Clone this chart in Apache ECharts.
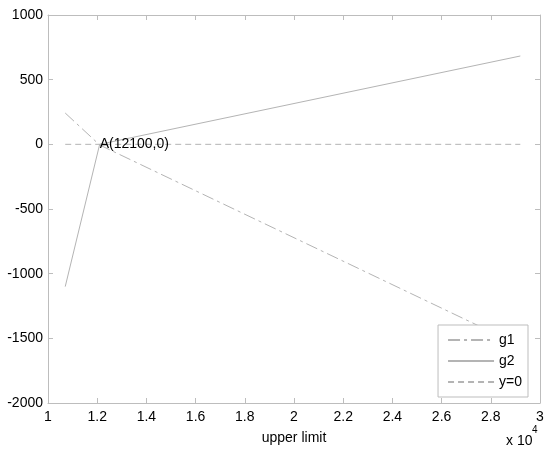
<!DOCTYPE html>
<html>
<head>
<meta charset="utf-8">
<script src="https://cdn.jsdelivr.net/npm/echarts@6/dist/echarts.min.js"></script>
<style>
  html, body { margin: 0; padding: 0; background: #fff; }
  #chart { width: 550px; height: 452px; }
</style>
</head>
<body>
<div id="chart"></div>
<script>
const g1X = [10700, 12100, 29200]
const g1Y = [242, -5, -1557]
const g2X = [10700, 12100, 29200]
const g2Y = [-1100, 0, 683]
const zeroX = [10700, 29200]
const zeroY = [0, 0]
const seriesNames = ['g1', 'g2', 'y=0']
const annoPoint = [12100, 0]
const xName = 'upper limit'

const pairs = (xs, ys) => xs.map((x, i) => [x, ys[i]])

const lineColor = '#b4b4b4'
const axisColor = '#bdbdbd'
const fontFamily = '"Liberation Sans", Arial, Helvetica, sans-serif'

const xBase = {
  type: 'value',
  min: 10000,
  max: 30000,
  interval: 2000,
  axisLine: { show: true, onZero: false, lineStyle: { color: axisColor } },
  axisTick: { show: true, inside: true, length: 5, lineStyle: { color: axisColor } },
  splitLine: { show: false }
}
const yBase = {
  type: 'value',
  min: -2000,
  max: 1000,
  interval: 500,
  axisLine: { show: true, onZero: false, lineStyle: { color: axisColor } },
  axisTick: { show: true, inside: true, length: 5, lineStyle: { color: axisColor } },
  splitLine: { show: false }
}

const chart = echarts.init(document.getElementById('chart'))

chart.setOption({
  animation: false,
  backgroundColor: '#fff',
  textStyle: { fontFamily },
  grid: { left: 48, right: 10, top: 15, bottom: 49 },
  legend: {
    orient: 'vertical',
    right: 22,
    top: 325,
    data: seriesNames,
    itemWidth: 46,
    itemHeight: 14,
    itemGap: 7,
    padding: [8, 6, 8, 9],
    backgroundColor: '#fff',
    borderColor: axisColor,
    borderWidth: 1,
    borderRadius: 0,
    itemStyle: { opacity: 0 },
    textStyle: { color: '#000', fontSize: 14, fontFamily }
  },
  xAxis: [
    {
      ...xBase,
      position: 'bottom',
      name: xName,
      nameLocation: 'middle',
      nameGap: 28,
      nameTextStyle: { color: '#000', fontSize: 14, fontFamily },
      axisLabel: {
        color: '#000',
        fontSize: 14,
        margin: 7,
        fontFamily,
        formatter: (v) => String(+(v / 10000).toFixed(1))
      }
    },
    { ...xBase, position: 'top', axisLabel: { show: false } }
  ],
  yAxis: [
    {
      ...yBase,
      position: 'left',
      axisLabel: { color: '#000', fontSize: 14, margin: 5, fontFamily, formatter: (v) => String(v) }
    },
    { ...yBase, position: 'right', axisLabel: { show: false } }
  ],
  series: [
    {
      name: seriesNames[0],
      type: 'line',
      data: pairs(g1X, g1Y),
      symbol: 'none',
      lineStyle: { color: lineColor, width: 1, type: [12, 4, 3, 4] },
      itemStyle: { color: lineColor }
    },
    {
      name: seriesNames[1],
      type: 'line',
      data: pairs(g2X, g2Y),
      symbol: 'none',
      lineStyle: { color: lineColor, width: 1, type: 'solid' },
      itemStyle: { color: lineColor },
      markPoint: {
        symbol: 'circle',
        symbolSize: 0,
        data: [{
          coord: annoPoint,
          label: {
            show: true,
            position: 'right',
            distance: 0,
            color: '#000',
            fontSize: 14,
            fontFamily,
            formatter: () => 'A(' + annoPoint[0] + ',' + annoPoint[1] + ')'
          }
        }]
      }
    },
    {
      name: seriesNames[2],
      type: 'line',
      data: pairs(zeroX, zeroY),
      symbol: 'none',
      lineStyle: { color: lineColor, width: 1, type: [6, 4] },
      itemStyle: { color: lineColor }
    }
  ],
  graphic: [
    {
      type: 'text',
      left: 506,
      top: 434,
      style: { text: 'x 10', fill: '#000', font: '14px ' + fontFamily }
    },
    {
      type: 'text',
      left: 532,
      top: 425,
      style: { text: '4', fill: '#000', font: '10px ' + fontFamily }
    }
  ]
})
</script>
</body>
</html>
